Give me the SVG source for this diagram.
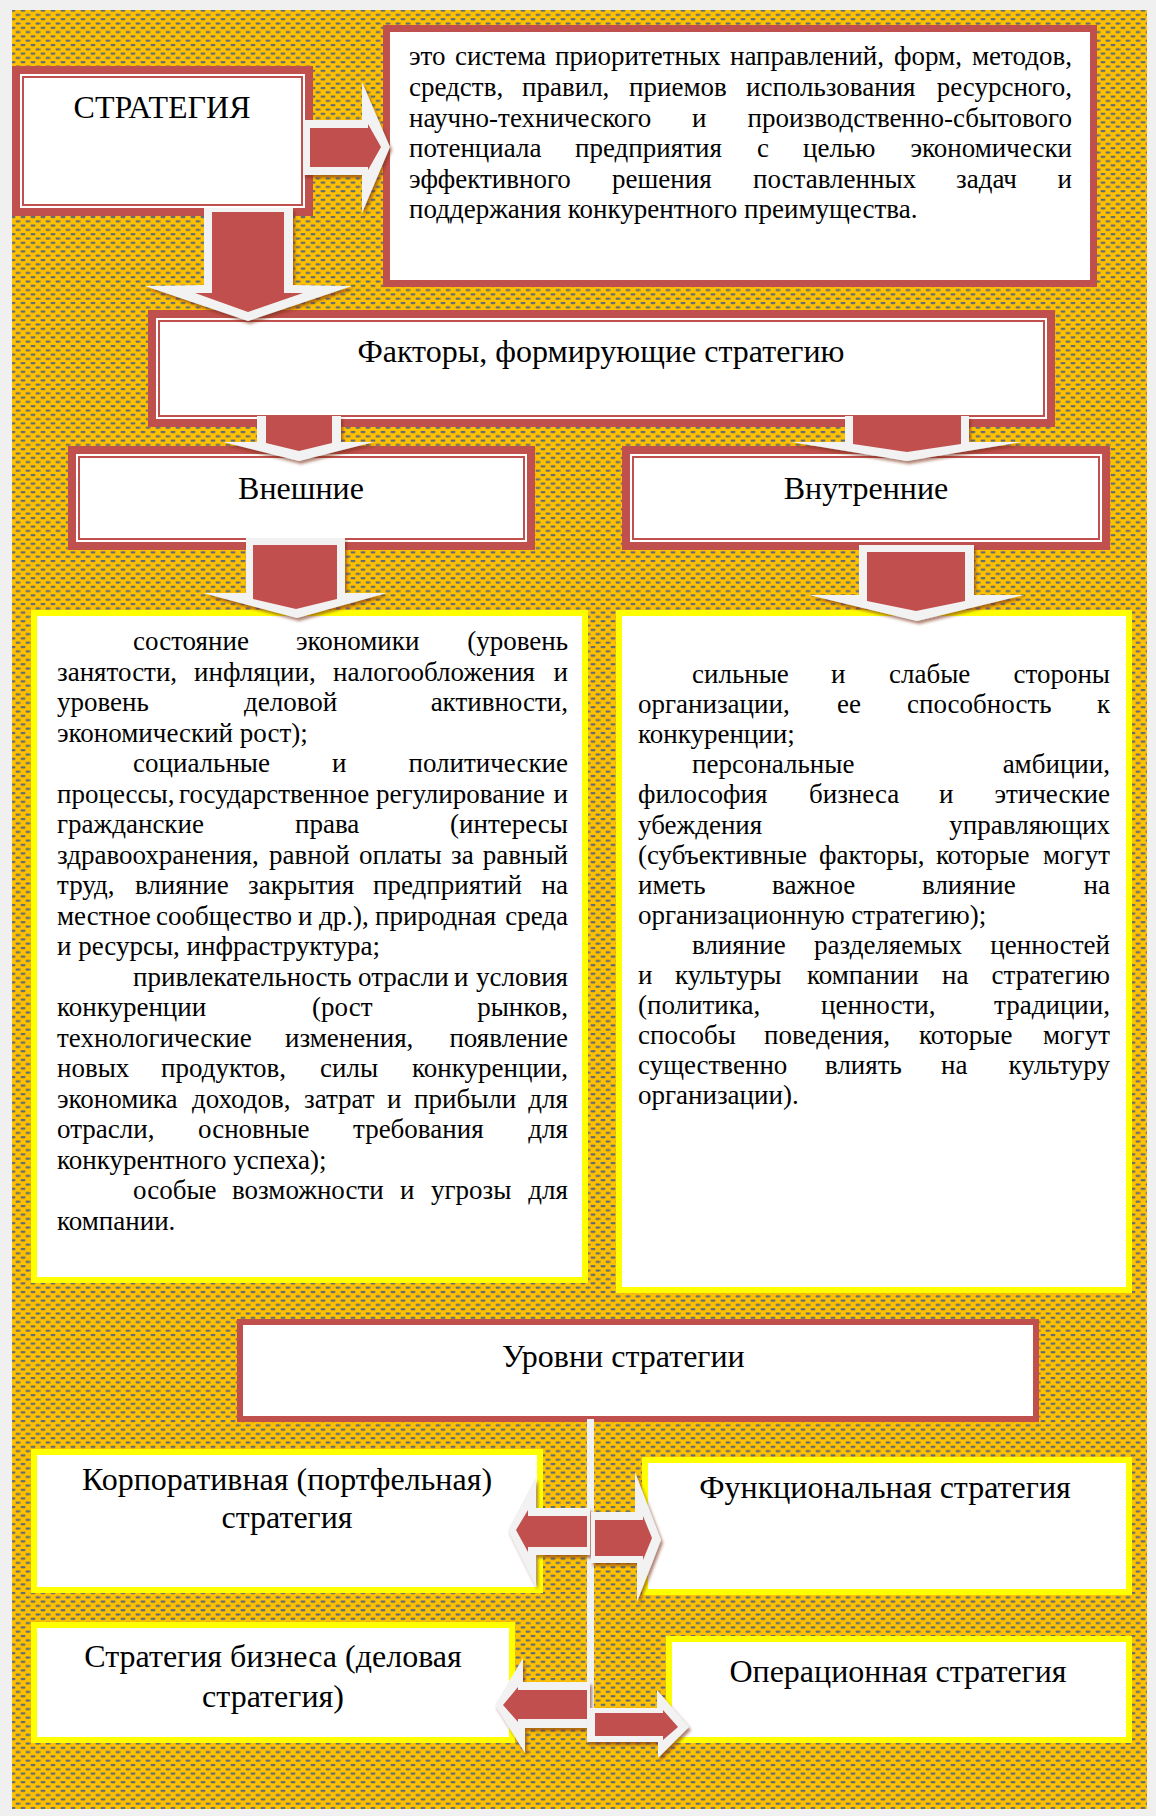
<svg xmlns="http://www.w3.org/2000/svg" width="1156" height="1816" viewBox="0 0 1156 1816">
<defs>
  <pattern id="pat" width="10" height="8.6" patternUnits="userSpaceOnUse">
    <rect width="10" height="8.6" fill="#FFC000"/>
    <rect x="0.5" y="1" width="5" height="2" rx="1" fill="#5B6B7E"/>
    <rect x="5.5" y="5.3" width="4.5" height="2" rx="1" fill="#5B6B7E"/>
    <rect x="0" y="5.3" width="0.5" height="2" fill="#5B6B7E"/>
  </pattern>
  <filter id="sh" x="-20%" y="-20%" width="140%" height="160%">
    <feDropShadow dx="2" dy="3" stdDeviation="1.5" flood-color="#7a2e14" flood-opacity="0.6"/>
  </filter>
</defs>
<style>
  .t{font-family:"Liberation Serif","Times New Roman",serif;fill:#000}
  .h{font-size:32px}
  .b{font-size:27px}
  .red{fill:#C0504D}
  .wo{fill:#F2F2F2}
  .thin{fill:none;stroke:#C0504D;stroke-width:2}
  .yb{fill:#FFFFFF;stroke:#FFFF00;stroke-width:6}
  .rb{fill:#FFFFFF;stroke:#C0504D}
</style>
<rect width="1156" height="1816" fill="#F0F0F0"/>
<rect x="12" y="10" width="1135" height="1799" fill="url(#pat)"/>

<g id="strategy">
  <rect x="12" y="66" width="301" height="150" class="red"/>
  <rect x="20" y="74" width="285" height="134" fill="#fff"/>
  <rect x="23" y="77" width="279" height="128" class="thin"/>
  <text class="t h" x="162" y="118" text-anchor="middle">СТРАТЕГИЯ</text>
</g>

<g id="definition">
  <rect x="386.5" y="28.5" width="707" height="255" class="rb" stroke-width="7"/>
  <text class="t b" y="65"><tspan x="409">это</tspan><tspan x="455">система</tspan><tspan x="555">приоритетных</tspan><tspan x="730">направлений,</tspan><tspan x="894">форм,</tspan><tspan x="1072" text-anchor="end">методов,</tspan></text>
  <text class="t b" y="96"><tspan x="409">средств,</tspan><tspan x="522">правил,</tspan><tspan x="629">приемов</tspan><tspan x="746">использования</tspan><tspan x="1072" text-anchor="end">ресурсного,</tspan></text>
  <text class="t b" y="127"><tspan x="409">научно-технического</tspan><tspan x="692">и</tspan><tspan x="1072" text-anchor="end">производственно-сбытового</tspan></text>
  <text class="t b" y="157"><tspan x="409">потенциала</tspan><tspan x="575">предприятия</tspan><tspan x="757">с</tspan><tspan x="803">целью</tspan><tspan x="1072" text-anchor="end">экономически</tspan></text>
  <text class="t b" y="188"><tspan x="409">эффективного</tspan><tspan x="612">решения</tspan><tspan x="753">поставленных</tspan><tspan x="956">задач</tspan><tspan x="1072" text-anchor="end">и</tspan></text>
  <text class="t b" x="409" y="218">поддержания конкурентного преимущества.</text>
</g>

<g id="factors">
  <rect x="148" y="310" width="907" height="117" class="red"/>
  <rect x="156" y="318" width="891" height="101" fill="#fff"/>
  <rect x="159" y="321" width="885" height="95" class="thin"/>
  <text class="t h" x="601" y="362" text-anchor="middle">Факторы, формирующие стратегию</text>
</g>

<g id="external">
  <rect x="68" y="446" width="467" height="104" class="red"/>
  <rect x="76" y="454" width="451" height="88" fill="#fff"/>
  <rect x="79" y="457" width="445" height="82" class="thin"/>
  <text class="t h" x="301" y="499" text-anchor="middle">Внешние</text>
</g>

<g id="internal">
  <rect x="622" y="446" width="488" height="104" class="red"/>
  <rect x="630" y="454" width="472" height="88" fill="#fff"/>
  <rect x="633" y="457" width="466" height="82" class="thin"/>
  <text class="t h" x="866" y="499" text-anchor="middle">Внутренние</text>
</g>

<g id="external-list">
  <rect x="34" y="613" width="551" height="667" class="yb"/>
  <g class="t b">
    <text y="650"><tspan x="133">состояние</tspan><tspan x="296">экономики</tspan><tspan x="568" text-anchor="end">(уровень</tspan></text>
    <text y="680.5"><tspan x="57">занятости,</tspan><tspan x="194">инфляции,</tspan><tspan x="333">налогообложения</tspan><tspan x="568" text-anchor="end">и</tspan></text>
    <text y="711"><tspan x="57">уровень</tspan><tspan x="244">деловой</tspan><tspan x="568" text-anchor="end">активности,</tspan></text>
    <text x="57" y="741.5">экономический рост);</text>
    <text y="772"><tspan x="133">социальные</tspan><tspan x="332">и</tspan><tspan x="568" text-anchor="end">политические</tspan></text>
    <text y="802.5"><tspan x="57">процессы,</tspan><tspan x="179">государственное</tspan><tspan x="376">регулирование</tspan><tspan x="568" text-anchor="end">и</tspan></text>
    <text y="833"><tspan x="57">гражданские</tspan><tspan x="295">права</tspan><tspan x="568" text-anchor="end">(интересы</tspan></text>
    <text y="863.5"><tspan x="57">здравоохранения,</tspan><tspan x="269">равной</tspan><tspan x="359">оплаты</tspan><tspan x="451">за</tspan><tspan x="568" text-anchor="end">равный</tspan></text>
    <text y="894"><tspan x="57">труд,</tspan><tspan x="135">влияние</tspan><tspan x="248">закрытия</tspan><tspan x="373">предприятий</tspan><tspan x="568" text-anchor="end">на</tspan></text>
    <text y="924.5"><tspan x="57">местное</tspan><tspan x="156">сообщество</tspan><tspan x="298">и</tspan><tspan x="319">др.),</tspan><tspan x="375">природная</tspan><tspan x="568" text-anchor="end">среда</tspan></text>
    <text x="57" y="955">и ресурсы, инфраструктура;</text>
    <text y="985.5"><tspan x="133">привлекательность</tspan><tspan x="358">отрасли</tspan><tspan x="454">и</tspan><tspan x="568" text-anchor="end">условия</tspan></text>
    <text y="1016"><tspan x="57">конкуренции</tspan><tspan x="312">(рост</tspan><tspan x="568" text-anchor="end">рынков,</tspan></text>
    <text y="1046.5"><tspan x="57">технологические</tspan><tspan x="285">изменения,</tspan><tspan x="568" text-anchor="end">появление</tspan></text>
    <text y="1077"><tspan x="57">новых</tspan><tspan x="161">продуктов,</tspan><tspan x="320">силы</tspan><tspan x="568" text-anchor="end">конкуренции,</tspan></text>
    <text y="1107.5"><tspan x="57">экономика</tspan><tspan x="192">доходов,</tspan><tspan x="304">затрат</tspan><tspan x="387">и</tspan><tspan x="414">прибыли</tspan><tspan x="568" text-anchor="end">для</tspan></text>
    <text y="1138"><tspan x="57">отрасли,</tspan><tspan x="198">основные</tspan><tspan x="353">требования</tspan><tspan x="568" text-anchor="end">для</tspan></text>
    <text x="57" y="1168.5">конкурентного успеха);</text>
    <text y="1199"><tspan x="133">особые</tspan><tspan x="232">возможности</tspan><tspan x="400">и</tspan><tspan x="431">угрозы</tspan><tspan x="568" text-anchor="end">для</tspan></text>
    <text x="57" y="1229.5">компании.</text>
  </g>
</g>

<g id="internal-list">
  <rect x="619" y="613" width="510" height="677" class="yb"/>
  <g class="t b">
    <text y="683"><tspan x="692">сильные</tspan><tspan x="831">и</tspan><tspan x="889">слабые</tspan><tspan x="1110" text-anchor="end">стороны</tspan></text>
    <text y="713.1"><tspan x="638">организации,</tspan><tspan x="837">ее</tspan><tspan x="907">способность</tspan><tspan x="1110" text-anchor="end">к</tspan></text>
    <text x="638" y="743.2">конкуренции;</text>
    <text y="773.3"><tspan x="692">персональные</tspan><tspan x="1110" text-anchor="end">амбиции,</tspan></text>
    <text y="803.4"><tspan x="638">философия</tspan><tspan x="809">бизнеса</tspan><tspan x="939">и</tspan><tspan x="1110" text-anchor="end">этические</tspan></text>
    <text y="833.5"><tspan x="638">убеждения</tspan><tspan x="1110" text-anchor="end">управляющих</tspan></text>
    <text y="863.6"><tspan x="638">(субъективные</tspan><tspan x="819">факторы,</tspan><tspan x="936">которые</tspan><tspan x="1110" text-anchor="end">могут</tspan></text>
    <text y="893.7"><tspan x="638">иметь</tspan><tspan x="772">важное</tspan><tspan x="922">влияние</tspan><tspan x="1110" text-anchor="end">на</tspan></text>
    <text x="638" y="923.8">организационную стратегию);</text>
    <text y="953.9"><tspan x="692">влияние</tspan><tspan x="814">разделяемых</tspan><tspan x="1110" text-anchor="end">ценностей</tspan></text>
    <text y="984"><tspan x="638">и</tspan><tspan x="675">культуры</tspan><tspan x="807">компании</tspan><tspan x="942">на</tspan><tspan x="1110" text-anchor="end">стратегию</tspan></text>
    <text y="1014.1"><tspan x="638">(политика,</tspan><tspan x="821">ценности,</tspan><tspan x="1110" text-anchor="end">традиции,</tspan></text>
    <text y="1044.2"><tspan x="638">способы</tspan><tspan x="764">поведения,</tspan><tspan x="919">которые</tspan><tspan x="1110" text-anchor="end">могут</tspan></text>
    <text y="1074.3"><tspan x="638">существенно</tspan><tspan x="825">влиять</tspan><tspan x="941">на</tspan><tspan x="1110" text-anchor="end">культуру</tspan></text>
    <text x="638" y="1104.4">организации).</text>
  </g>
</g>

<g id="levels">
  <rect x="240" y="1322" width="796" height="97" class="rb" stroke-width="6"/>
  <text class="t h" x="502" y="1367">Уровни стратегии</text>
</g>

<g id="corporate">
  <rect x="34" y="1452" width="506" height="138" class="yb"/>
  <text class="t h" x="287" y="1490" text-anchor="middle">Корпоративная (портфельная)</text>
  <text class="t h" x="287" y="1528" text-anchor="middle">стратегия</text>
</g>

<g id="functional">
  <rect x="645" y="1460" width="484" height="132" class="yb"/>
  <text class="t h" x="885" y="1498" text-anchor="middle">Функциональная стратегия</text>
</g>

<g id="business">
  <rect x="34" y="1625" width="478" height="115" class="yb"/>
  <text class="t h" x="273" y="1667" text-anchor="middle">Стратегия бизнеса (деловая</text>
  <text class="t h" x="273" y="1707" text-anchor="middle">стратегия)</text>
</g>

<g id="operational">
  <rect x="669" y="1639" width="460" height="101" class="yb"/>
  <text class="t h" x="898" y="1682" text-anchor="middle">Операционная стратегия</text>
</g>

<g id="connectors">
  <g filter="url(#sh)">
    <polygon class="wo" points="303,120 362,120 362,82 390,147 362,213 362,175 303,175"/>
    <polygon class="red" points="310,128 368,128 368,124 381,147 368,170 368,167 310,167"/>
  </g>
  <g filter="url(#sh)">
    <polygon class="wo" points="204,208 293,208 293,285 352,286 248,321 145,286 204,285"/>
    <polygon class="red" points="212,212 284,212 284,293 303,293 248,312 195,293 212,293"/>
  </g>
  <g filter="url(#sh)">
    <polygon class="wo" points="257,416 341,416 341,442 374,442 299,461 223,442 257,442"/>
    <polygon class="red" points="266,416 332,416 332,443 299,451 266,443"/>
  </g>
  <g filter="url(#sh)">
    <polygon class="wo" points="845,416 969,416 969,442 1022,442 907,461 791,442 845,442"/>
    <polygon class="red" points="853,416 961,416 961,444 907,452 853,444"/>
  </g>
  <g filter="url(#sh)">
    <polygon class="wo" points="246,538 345,538 345,593 387,593 297,618 203,593 246,593"/>
    <polygon class="red" points="253,545 337,545 337,599 296,609 253,599"/>
  </g>
  <g filter="url(#sh)">
    <polygon class="wo" points="859,545 974,545 974,595 1024,595 917,621 809,595 859,595"/>
    <polygon class="red" points="867,552 965,552 965,601 916,611 867,601"/>
  </g>
  <rect x="587" y="1419" width="7" height="323" class="wo"/>
  <g filter="url(#sh)">
    <polygon class="wo" points="590,1508 536,1508 536,1477 508,1530 536,1587 536,1555 590,1555"/>
    <polygon class="red" points="587,1516 528,1516 528,1510 516,1530 528,1552 528,1547 587,1547"/>
  </g>
  <g filter="url(#sh)">
    <polygon class="wo" points="591,1512 635,1512 635,1472 661,1540 637,1602 637,1563 591,1563"/>
    <polygon class="red" points="595,1520 643,1520 643,1516 652,1538 643,1560 643,1556 595,1556"/>
  </g>
  <g filter="url(#sh)">
    <polygon class="wo" points="590,1682 523,1682 523,1658 495,1705 525,1753 525,1728 590,1728"/>
    <polygon class="red" points="587,1690 518,1690 518,1687 503,1705 518,1722 518,1719 587,1719"/>
  </g>
  <g filter="url(#sh)">
    <polygon class="wo" points="587,1708 657,1708 657,1690 689,1727 658,1758 658,1742 587,1742"/>
    <polygon class="red" points="595,1713 663,1713 663,1710 678,1727 663,1740 663,1736 595,1736"/>
  </g>
</g>
</svg>
